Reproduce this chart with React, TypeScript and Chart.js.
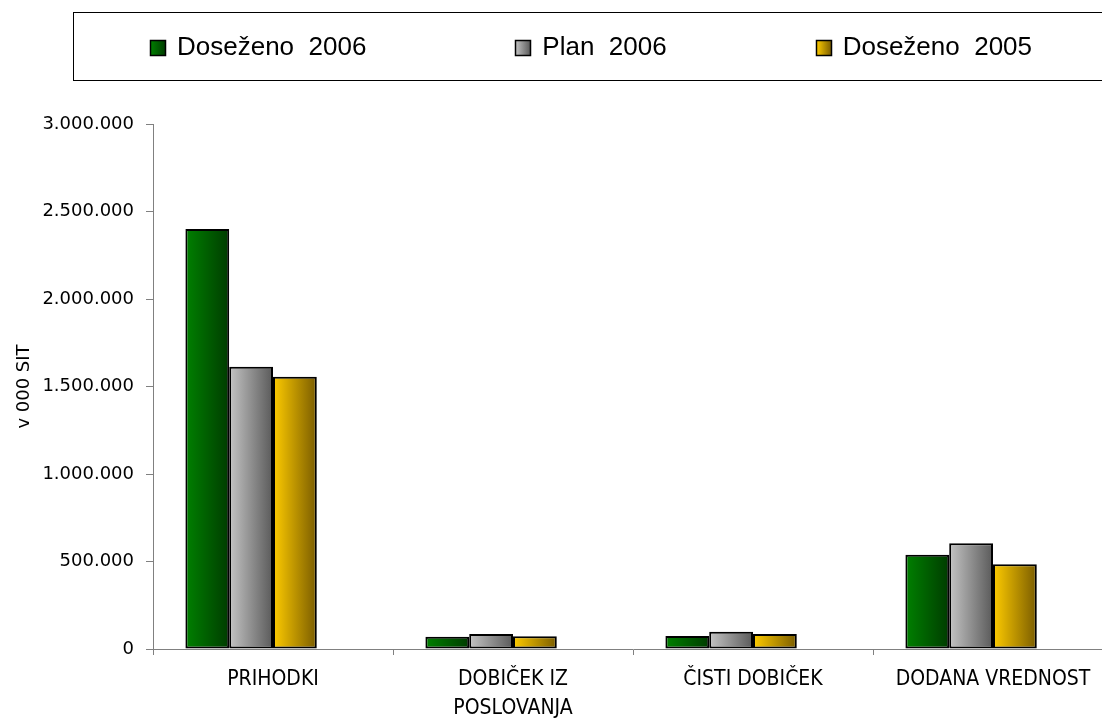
import React, { useEffect, useRef } from 'react';
import { Chart, registerables } from 'chart.js';

Chart.register(...registerables);

// Categories on the x axis (multi-line label as an array)
const categories: (string | string[])[] = [
  'PRIHODKI',
  ['DOBIČEK IZ', 'POSLOVANJA'],
  'ČISTI DOBIČEK',
  'DODANA VREDNOST',
];

// Series names shown in the legend
const seriesNames = ['Doseženo  2006', 'Plan  2006', 'Doseženo  2005'];

// Values in thousands of SIT
const achieved2006 = [2400000, 70000, 74000, 539000];
const plan2006 = [1613000, 86000, 99000, 604000];
const achieved2005 = [1556000, 72500, 86000, 484000];
// Reserved fourth slot in each group (no values)
const reservedSeries = [null, null, null, null];

// Y axis range and step
const yMin = 0;
const yMax = 3000000;
const yStep = 500000;
const yAxisTitle = 'v 000 SIT';

// Light -> dark horizontal shading for each series
const seriesShades: [string, string][] = [
  ['#008000', '#003c00'],
  ['#c4c4c4', '#5a5a5a'],
  ['#ffcc00', '#7a5c00'],
];

const CATEGORY_PCT = 0.73;

const formatThousands = (v: number | string) =>
  String(v).replace(/\B(?=(\d{3})+(?!\d))/g, '.');

// Builds the bar's horizontal gradient from the category scale geometry
function barGradient(c: any, seriesIndex: number) {
  const [light, dark] = seriesShades[seriesIndex];
  const chart = c.chart;
  const xScale = chart.scales?.x;
  if (!xScale || c.dataIndex === undefined || !chart.chartArea) return light;
  const slots = chart.data.datasets.length;
  const catWidth = xScale.width / chart.data.labels.length;
  const group = catWidth * CATEGORY_PCT;
  const bw = group / slots;
  const left = xScale.getPixelForValue(c.dataIndex) - group / 2 + seriesIndex * bw;
  const g = chart.ctx.createLinearGradient(left, 0, left + bw, 0);
  g.addColorStop(0, light);
  g.addColorStop(1, dark);
  return g;
}

// Legend drawn inside a rectangular frame above the plot
const framedLegend = {
  id: 'framedLegend',
  afterDraw(chart: any) {
    const ctx: CanvasRenderingContext2D = chart.ctx;
    const frame = { left: 73.5, top: 12.5, right: chart.width - 3.5, bottom: 80.5 };
    ctx.save();
    ctx.strokeStyle = '#000';
    ctx.lineWidth = 1;
    ctx.strokeRect(frame.left, frame.top, frame.right - frame.left, frame.bottom - frame.top);

    const font = '26px "Liberation Sans", Arial, sans-serif';
    ctx.font = font;
    const box = 15;
    const boxGap = 12;
    const itemGap = 149;
    const widths = seriesNames.map((n) => box + boxGap + ctx.measureText(n).width);
    const total = widths.reduce((a, b) => a + b, 0) + itemGap * (widths.length - 1);
    const cy = (frame.top + frame.bottom) / 2 + 1;
    let x = (frame.left + frame.right) / 2 - total / 2 - 4;
    seriesNames.forEach((name, i) => {
      const [light, dark] = seriesShades[i];
      const bx = Math.round(x) + 0.5;
      const by = Math.round(cy - box / 2) + 0.5;
      const g = ctx.createLinearGradient(bx, 0, bx + box, 0);
      g.addColorStop(0, light);
      g.addColorStop(1, dark);
      ctx.fillStyle = g;
      ctx.fillRect(bx, by, box, box);
      ctx.lineWidth = 1.5;
      ctx.strokeStyle = '#000';
      ctx.strokeRect(bx, by, box, box);
      ctx.fillStyle = '#000';
      ctx.font = font;
      ctx.textBaseline = 'middle';
      ctx.textAlign = 'left';
      ctx.fillText(name, x + box + boxGap, cy);
      x += widths[i] + itemGap;
    });
    ctx.restore();
  },
};

export default function App() {
  const canvasRef = useRef<HTMLCanvasElement | null>(null);

  useEffect(() => {
    if (!canvasRef.current) return;
    const seriesData = [achieved2006, plan2006, achieved2005];
    const datasets: any[] = seriesData.map((data, i) => ({
      label: seriesNames[i],
      data,
      backgroundColor: (c: any) => barGradient(c, i),
      borderColor: '#000',
      borderWidth: 2,
      borderSkipped: false,
      categoryPercentage: CATEGORY_PCT,
      barPercentage: 1,
    }));
    datasets.push({
      label: '',
      data: reservedSeries,
      backgroundColor: 'rgba(0,0,0,0)',
      borderWidth: 0,
      categoryPercentage: CATEGORY_PCT,
      barPercentage: 1,
    });

    const chart = new Chart(canvasRef.current, {
      type: 'bar',
      data: { labels: categories as any, datasets },
      options: {
        responsive: false,
        animation: false,
        devicePixelRatio: 1,
        layout: { padding: { top: 124, right: 7, bottom: 0, left: 0 } },
        plugins: {
          legend: { display: false },
          tooltip: { enabled: false },
        },
        scales: {
          x: {
            offset: true,
            ticks: {
              color: '#000',
              padding: 10,
              maxRotation: 0,
              autoSkip: false,
              font: {
                family: '"Liberation Sans Narrow", "DejaVu Sans Condensed", "Liberation Sans", sans-serif',
                size: 21,
                lineHeight: 1.38,
              },
            },
            grid: {
              offset: true,
              drawOnChartArea: false,
              drawTicks: true,
              tickLength: 6,
              color: '#808080',
            },
            border: { display: true, color: '#808080', width: 1 },
            afterFit: (s: any) => {
              s.height = 69;
            },
          },
          y: {
            min: yMin,
            max: yMax,
            ticks: {
              stepSize: yStep,
              color: '#000',
              padding: 12,
              font: { family: '"DejaVu Sans", sans-serif', size: 18 },
              callback: (v: any) => formatThousands(v),
            },
            grid: {
              drawOnChartArea: false,
              drawTicks: true,
              tickLength: 7,
              color: '#808080',
            },
            border: { display: true, color: '#808080', width: 1 },
            title: {
              display: true,
              text: yAxisTitle,
              color: '#000',
              font: { family: '"DejaVu Sans", sans-serif', size: 18 },
              padding: { top: 14, bottom: 0 },
            },
            afterFit: (s: any) => {
              s.width = 153;
            },
          },
        },
      },
      plugins: [framedLegend],
    });

    return () => chart.destroy();
  }, []);

  return (
    <div
      style={{
        position: 'fixed',
        left: 0,
        top: 0,
        width: 1102,
        height: 718,
        overflow: 'hidden',
        background: '#fff',
      }}
    >
      <canvas
        ref={canvasRef}
        width={1120}
        height={718}
        style={{ display: 'block', width: 1120, height: 718 }}
      />
    </div>
  );
}
